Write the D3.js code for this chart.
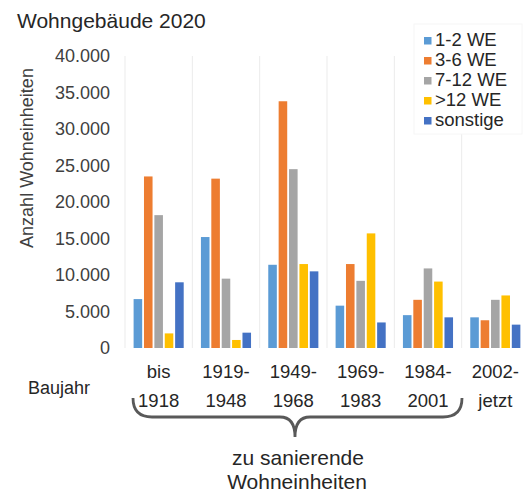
<!DOCTYPE html>
<html><head><meta charset="utf-8">
<script src="https://cdn.jsdelivr.net/npm/d3@7"></script>
<style>
html,body{margin:0;padding:0;background:#fff;}
text{font-family:"Liberation Sans",Arial,sans-serif;}
</style></head>
<body>
<svg id="chart" width="527" height="493"></svg>
<script>
const categoriesLine1 = ["bis", "1919-", "1949-", "1969-", "1984-", "2002-"];
const categoriesLine2 = ["1918", "1948", "1968", "1983", "2001", "jetzt"];
const seriesNames = ["1-2 WE", "3-6 WE", "7-12 WE", ">12 WE", "sonstige"];
const seriesColors = ["#5B9BD5", "#ED7D31", "#A5A5A5", "#FFC000", "#4472C4"];
const v12 = [6700, 15200, 11400, 5800, 4500, 4200];
const v36 = [23500, 23200, 33800, 11500, 6600, 3800];
const v712 = [18200, 9500, 24500, 9200, 10900, 6600];
const vGt12 = [2000, 1100, 11500, 15700, 9100, 7200];
const vSonst = [9000, 2100, 10500, 3500, 4200, 3200];
const yTicks = [0, 5000, 10000, 15000, 20000, 25000, 30000, 35000, 40000];
const tickLabels = ["0", "5.000", "10.000", "15.000", "20.000", "25.000", "30.000", "35.000", "40.000"];

const seriesValues = [v12, v36, v712, vGt12, vSonst];
const svg = d3.select("#chart");

const x0 = d3.scaleBand().domain(d3.range(categoriesLine1.length)).range([125, 529]).padding(0);
const x1 = d3.scaleBand().domain(d3.range(seriesNames.length)).range([8.6, 58.7]).paddingInner(0.175).paddingOuter(0);
const y = d3.scaleLinear().domain([0, 40000]).range([348, 56]);

// vertical category separators
const bounds = d3.range(categoriesLine1.length).map(i => x0(i));
svg.append("g").selectAll("line").data(bounds).join("line")
  .attr("x1", d => d).attr("x2", d => d)
  .attr("y1", 56).attr("y2", 348)
  .attr("stroke", "#ebebeb").attr("stroke-width", 1);

// title
svg.append("text").attr("x", 17).attr("y", 28).attr("font-size", 21).attr("fill", "#262626")
  .text("Wohngebäude 2020");

// y axis
const yAxis = d3.axisLeft(y).tickValues(yTicks).tickFormat((d, i) => tickLabels[i]).tickSize(0).tickPadding(0);
const ga = svg.append("g").attr("transform", "translate(110,0)").call(yAxis);
ga.select(".domain").remove();
ga.selectAll("text").attr("font-size", 18).attr("fill", "#404040")
  .attr("font-family", "Liberation Sans, Arial, sans-serif");

// y title
svg.append("text").attr("transform", "translate(33,158) rotate(-90)")
  .attr("text-anchor", "middle").attr("font-size", 18).attr("fill", "#404040")
  .text("Anzahl Wohneinheiten");

// bars
const groups = svg.append("g").selectAll("g").data(d3.range(categoriesLine1.length)).join("g")
  .attr("transform", c => `translate(${x0(c)},0)`);
groups.selectAll("rect").data(c => seriesValues.map((vals, s) => ({s, v: vals[c]}))).join("rect")
  .attr("x", d => x1(d.s)).attr("width", x1.bandwidth())
  .attr("y", d => y(d.v)).attr("height", d => y(0) - y(d.v))
  .attr("fill", d => seriesColors[d.s]);

// category labels
const cl = svg.append("g").selectAll("text").data(d3.range(categoriesLine1.length)).join("text")
  .attr("text-anchor", "middle").attr("font-size", 18.5).attr("fill", "#262626")
  .attr("x", c => x0(c) + x0.bandwidth() / 2);
cl.append("tspan").attr("x", c => x0(c) + x0.bandwidth() / 2).attr("y", 378).text(c => categoriesLine1[c]);
cl.append("tspan").attr("x", c => x0(c) + x0.bandwidth() / 2).attr("y", 407).text(c => categoriesLine2[c]);

svg.append("text").attr("x", 28).attr("y", 394).attr("font-size", 18).attr("fill", "#262626").text("Baujahr");

// brace
svg.append("path")
  .attr("d", "M133,398 Q133,417 152,417 L280,417 Q295,417 295,437 Q295,417 310,417 L443,417 Q462,417 462,398")
  .attr("fill", "none").attr("stroke", "#595959").attr("stroke-width", 2.8);

// bottom text
svg.append("text").attr("x", 298).attr("y", 465).attr("text-anchor", "middle").attr("font-size", 21).attr("fill", "#262626").text("zu sanierende");
svg.append("text").attr("x", 297).attr("y", 489).attr("text-anchor", "middle").attr("font-size", 21).attr("fill", "#262626").text("Wohneinheiten");

// legend
svg.append("rect").attr("x", 414).attr("y", 24).attr("width", 108).attr("height", 110)
  .attr("fill", "#fff").attr("stroke", "#f6f6f6");
const lg = svg.append("g").selectAll("g").data(seriesNames).join("g")
  .attr("transform", (d, i) => `translate(424,${46 + i * 20})`);
lg.append("rect").attr("x", 0).attr("y", -9).attr("width", 7.5).attr("height", 7.5)
  .attr("fill", (d, i) => seriesColors[i]);
lg.append("text").attr("x", 11).attr("y", 0).attr("font-size", 18.5).attr("fill", "#262626").text(d => d);
</script>
</body></html>
